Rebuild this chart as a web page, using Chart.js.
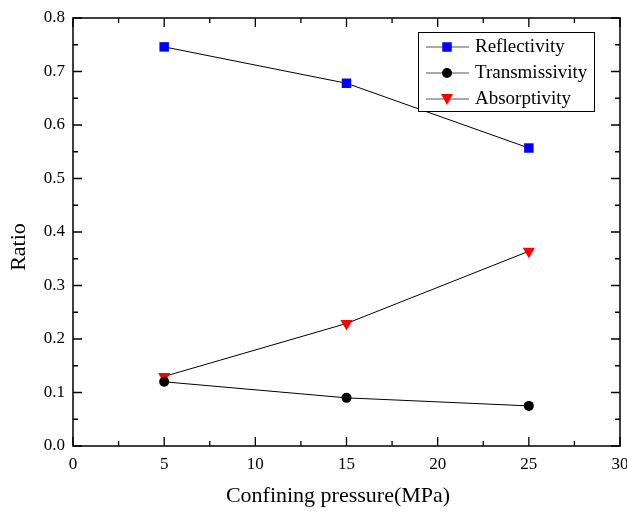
<!DOCTYPE html>
<html>
<head>
<meta charset="utf-8">
<script src="https://cdn.jsdelivr.net/npm/chart.js@4/dist/chart.umd.min.js"></script>
<style>
  body { margin: 0; background: #fff; }
  #wrap { width: 627px; height: 515px; }
</style>
</head>
<body>
<div id="wrap"><canvas id="chart" width="627" height="515"></canvas></div>
<script>
// data
const pressures = [5, 15, 25];
const reflectivity = [0.746, 0.678, 0.557];
const transmissivity = [0.120, 0.090, 0.075];
const absorptivity = [0.130, 0.229, 0.364];
const seriesNames = ["Reflectivity", "Transmissivity", "Absorptivity"];
const xTitle = "Confining pressure(MPa)";
const yTitle = "Ratio";

const FONT = "'Liberation Serif', 'Times New Roman', serif";

const toPoints = (vals) => pressures.map((p, i) => ({ x: p, y: vals[i] }));

// draw a marker the same way for plot legend
function marker(ctx, style, x, y, color) {
  ctx.save();
  ctx.fillStyle = color;
  ctx.beginPath();
  if (style === "rect") {
    ctx.rect(x - 4.75, y - 4.75, 9.5, 9.5);
  } else if (style === "circle") {
    ctx.arc(x, y, 5, 0, Math.PI * 2);
  } else {
    ctx.moveTo(x - 6, y - 5);
    ctx.lineTo(x + 6, y - 5);
    ctx.lineTo(x, y + 6);
    ctx.closePath();
  }
  ctx.fill();
  ctx.restore();
}

/* ---------------------------------------------------
   frame, inward ticks, axis titles, legend
--------------------------------------------------- */
const framePlugin = {
  id: "frame",
  afterDraw(chart) {
    const { ctx, chartArea: a, scales } = chart;
    ctx.save();
    ctx.strokeStyle = "#000";
    ctx.lineWidth = 1.5;
    ctx.strokeRect(a.left, a.top, a.right - a.left, a.bottom - a.top);

    ctx.lineWidth = 1.3;
    ctx.beginPath();
    // x ticks, every 2.5 with major every 5
    for (let v = 0; v <= 30; v += 2.5) {
      const px = scales.x.getPixelForValue(v);
      const len = v % 5 === 0 ? 9 : 5;
      ctx.moveTo(px, a.bottom); ctx.lineTo(px, a.bottom - len);
      ctx.moveTo(px, a.top); ctx.lineTo(px, a.top + len);
    }
    // y ticks, every 0.05 with major every 0.1
    for (let i = 0; i <= 16; i++) {
      const py = scales.y.getPixelForValue(i * 0.05);
      const len = i % 2 === 0 ? 9 : 5;
      ctx.moveTo(a.left, py); ctx.lineTo(a.left + len, py);
      ctx.moveTo(a.right, py); ctx.lineTo(a.right - len, py);
    }
    ctx.stroke();

    // axis titles (Origin places them a little off centre)
    ctx.fillStyle = "#000";
    ctx.font = "22px " + FONT;
    ctx.textAlign = "center";
    ctx.textBaseline = "middle";
    ctx.fillText(xTitle, 338, 496);
    ctx.save();
    ctx.translate(19, 247);
    ctx.rotate(-Math.PI / 2);
    ctx.fillText(yTitle, 0, 0);
    ctx.restore();

    // legend box
    const bx = 418, by = 32, bw = 176, bh = 79;
    ctx.fillStyle = "#fff";
    ctx.fillRect(bx, by, bw, bh);
    ctx.lineWidth = 1;
    ctx.strokeRect(bx + 0.5, by + 0.5, bw, bh);
    ctx.font = "19px " + FONT;
    ctx.textAlign = "left";
    ctx.textBaseline = "middle";
    chart.data.datasets.forEach((ds, i) => {
      const y = 47 + i * 26;
      ctx.strokeStyle = "#555";
      ctx.lineWidth = 1;
      ctx.beginPath();
      ctx.moveTo(426, y); ctx.lineTo(469, y);
      ctx.stroke();
      marker(ctx, ds.pointStyle, 447, y, ds.pointBackgroundColor);
      ctx.fillStyle = "#000";
      ctx.fillText(ds.label, 475, y);
    });
    ctx.restore();
  }
};

function series(label, vals, color, style, radius, rot) {
  return {
    label: label,
    data: toPoints(vals),
    borderColor: "#000",
    borderWidth: 1,
    pointStyle: style,
    pointRadius: radius,
    pointRotation: rot,
    pointBackgroundColor: color,
    pointBorderColor: color,
    pointBorderWidth: 0,
    tension: 0
  };
}

new Chart(document.getElementById("chart"), {
  type: "line",
  data: {
    datasets: [
      series(seriesNames[0], reflectivity, "#0000ff", "rect", 6.7, 0),
      series(seriesNames[1], transmissivity, "#000000", "circle", 5, 0),
      series(seriesNames[2], absorptivity, "#ff0000", "triangle", 7, 180)
    ]
  },
  options: {
    responsive: false,
    animation: false,
    layout: { padding: { left: 0, right: 7, top: 18, bottom: 0 } },
    plugins: { legend: { display: false }, tooltip: { enabled: false } },
    scales: {
      x: {
        type: "linear",
        min: 0, max: 30,
        grid: { display: false, drawTicks: false },
        border: { display: false },
        ticks: { stepSize: 5, padding: 8, color: "#000", font: { family: FONT, size: 17 } },
        afterFit: (s) => { s.height = 69; s.paddingRight = 0; s.paddingLeft = 0; }
      },
      y: {
        min: 0, max: 0.8,
        grid: { display: false, drawTicks: false },
        border: { display: false },
        ticks: { stepSize: 0.1, padding: 8, color: "#000", font: { family: FONT, size: 17 },
                 callback: (v) => v.toFixed(1) },
        afterFit: (s) => { s.width = 73; s.paddingTop = 0; s.paddingBottom = 0; }
      }
    }
  },
  plugins: [framePlugin]
});
</script>
</body>
</html>
